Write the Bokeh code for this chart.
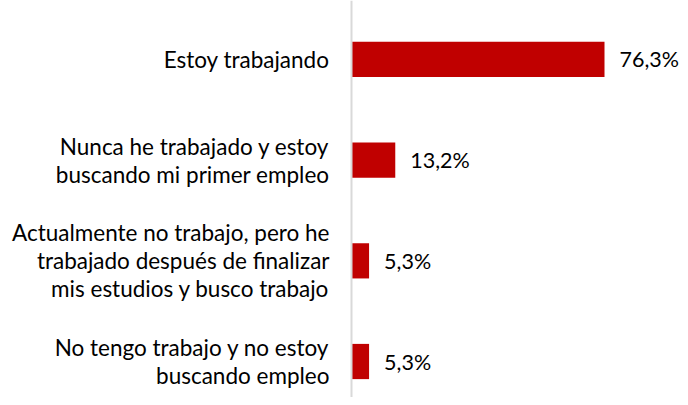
from bokeh.plotting import figure
from bokeh.models import ColumnDataSource, Range1d, Span
from bokeh.core.properties import value
from bokeh.embed import file_html
from bokeh.resources import INLINE

categories = [
    "Estoy trabajando",
    "Nunca he trabajado y estoy\nbuscando mi primer empleo",
    "Actualmente no trabajo, pero he\ntrabajado después de finalizar\nmis estudios y busco trabajo",
    "No tengo trabajo y no estoy\nbuscando empleo",
]
values = [76.3, 13.2, 5.3, 5.3]
value_labels = [f"{v:.1f}".replace(".", ",") + "%" for v in values]

ypos = list(range(len(categories)))
src = ColumnDataSource(dict(y=ypos, v=values, cat=categories, lab=value_labels,
                            zero=[0] * len(values)))

W, H = 680, 397
axis_px = 351            # frame x of the value axis
px_per_unit = 253 / 76.3
row_px = 100.7
p = figure(width=W, height=H, output_backend="svg", toolbar_location=None,
           x_range=Range1d(-axis_px / px_per_unit, (W - axis_px) / px_per_unit),
           y_range=Range1d(3 + 36 / row_px, -59 / row_px),
           min_border=0)
p.xaxis.visible = False
p.yaxis.visible = False
p.xgrid.visible = False
p.ygrid.visible = False
p.outline_line_color = None
p.background_fill_color = "white"
p.border_fill_color = "white"

p.add_layout(Span(location=0, dimension="height", line_color="#D9D9D9", line_width=2))

p.hbar(y="y", left="zero", right="v", height=0.35, source=src,
       fill_color="#C00000", line_color=None)

p.text(x="zero", y="y", text="cat", source=src, x_offset=-22,
       text_align="right", text_baseline="middle",
       text_font=value("Lato"), text_font_size="22.5px", text_color="#000000",
       text_line_height=1.04)

p.text(x="v", y="y", text="lab", source=src, x_offset=15,
       text_align="left", text_baseline="middle",
       text_font=value("Lato"), text_font_size="21.5px", text_color="#000000")

open("out.html", "w").write(file_html(p, INLINE))
